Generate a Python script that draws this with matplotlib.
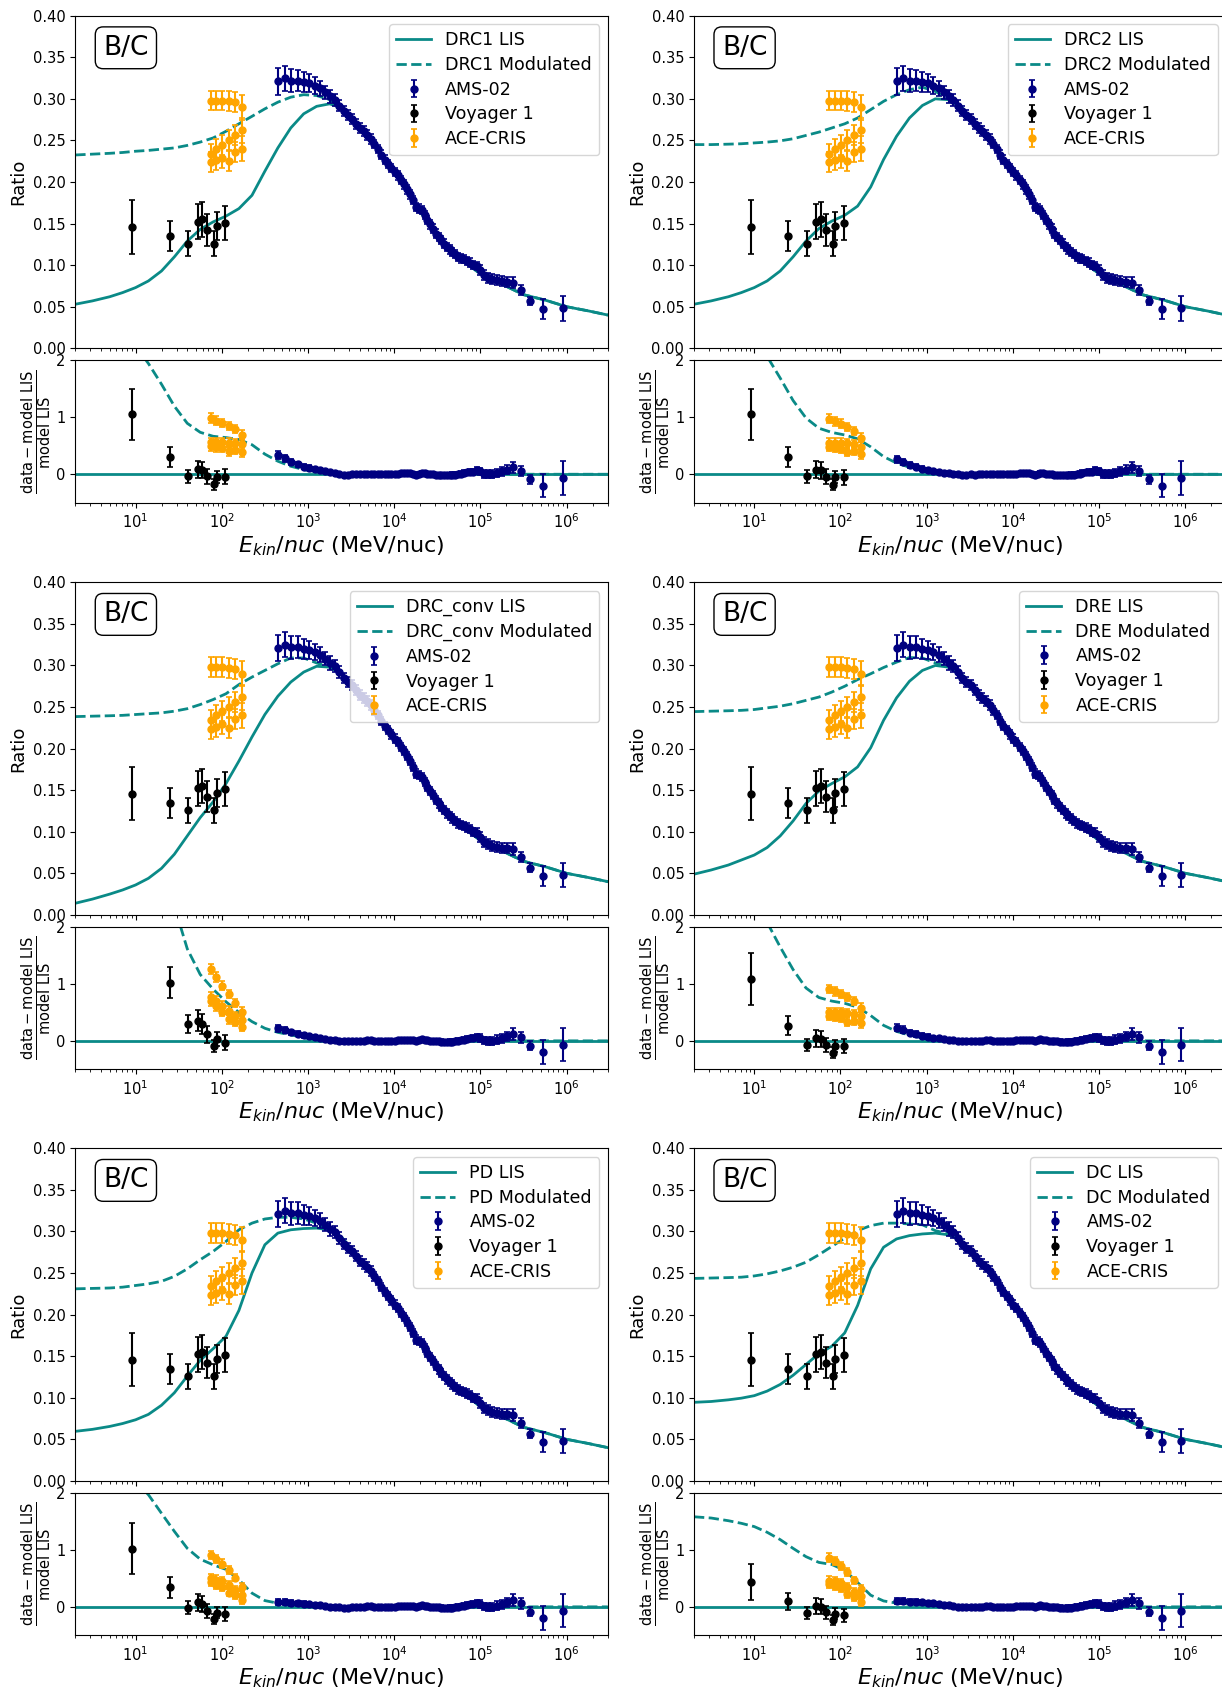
import numpy as np
import matplotlib.pyplot as plt

# ---------------- data ----------------
# model grid, kinetic energy per nucleon (MeV/nuc)
E_model = [2.0, 3.16, 5.01, 7.08, 10.0, 14.1, 20.0, 28.2, 39.8, 56.2, 79.4, 112, 158,
           224, 316, 447, 631, 891, 1259, 1778, 2512, 3981, 6310, 1.0e4, 1.78e4,
           3.16e4, 5.62e4, 1.0e5, 1.78e5, 3.16e5, 5.62e5, 1.0e6, 1.78e6, 3.0e6]

# high energy part, identical for every model (LIS and modulated)
tail = [0.266, 0.241, 0.212, 0.171, 0.137, 0.109, 0.0895, 0.077, 0.0645, 0.058, 0.050, 0.045, 0.040]

lis_drc1 = [0.053, 0.057, 0.062, 0.067, 0.073, 0.081, 0.093, 0.110, 0.129, 0.143, 0.152, 0.159, 0.168,
            0.184, 0.213, 0.241, 0.265, 0.282, 0.291, 0.294, 0.289] + tail
mod_drc1 = [0.2325, 0.2335, 0.2345, 0.2355, 0.237, 0.238, 0.2395, 0.241, 0.244, 0.248, 0.253, 0.261, 0.270,
            0.279, 0.288, 0.296, 0.302, 0.305, 0.304, 0.299, 0.291] + tail

lis_drc2 = [0.053, 0.057, 0.062, 0.067, 0.073, 0.081, 0.093, 0.110, 0.129, 0.144, 0.153, 0.160, 0.171,
            0.194, 0.227, 0.255, 0.277, 0.292, 0.300, 0.299, 0.290] + tail
mod_drc2 = [0.245, 0.245, 0.2455, 0.246, 0.247, 0.248, 0.2495, 0.252, 0.256, 0.260, 0.265, 0.270, 0.277,
            0.287, 0.297, 0.305, 0.311, 0.314, 0.309, 0.300, 0.291] + tail

lis_conv = [0.014, 0.019, 0.025, 0.030, 0.036, 0.044, 0.056, 0.073, 0.095, 0.117, 0.136, 0.158, 0.185,
            0.214, 0.241, 0.263, 0.280, 0.292, 0.299, 0.298, 0.289] + tail
mod_conv = [0.2385, 0.239, 0.2395, 0.240, 0.241, 0.242, 0.243, 0.245, 0.248, 0.253, 0.259, 0.266, 0.277,
            0.286, 0.294, 0.302, 0.309, 0.309, 0.303, 0.298, 0.290] + tail

lis_dre = [0.049, 0.054, 0.060, 0.066, 0.072, 0.081, 0.095, 0.113, 0.134, 0.149, 0.158, 0.166, 0.178,
           0.201, 0.234, 0.261, 0.281, 0.294, 0.300, 0.298, 0.289] + tail
mod_dre = [0.2445, 0.245, 0.2455, 0.246, 0.247, 0.249, 0.251, 0.254, 0.258, 0.262, 0.268, 0.275, 0.283,
           0.290, 0.2975, 0.304, 0.3095, 0.309, 0.303, 0.298, 0.290] + tail

lis_pd = [0.0596, 0.062, 0.0655, 0.069, 0.0735, 0.080, 0.091, 0.106, 0.126, 0.145, 0.159, 0.174, 0.205,
          0.250, 0.284, 0.298, 0.302, 0.3035, 0.304, 0.302, 0.292] + tail
mod_pd = [0.231, 0.2315, 0.232, 0.233, 0.235, 0.237, 0.240, 0.246, 0.255, 0.266, 0.276, 0.288, 0.302,
          0.310, 0.315, 0.317, 0.317, 0.315, 0.310, 0.302, 0.292] + tail

lis_dc = [0.0945, 0.0955, 0.0975, 0.0995, 0.1025, 0.108, 0.116, 0.127, 0.140, 0.153, 0.162, 0.178, 0.211,
          0.255, 0.281, 0.291, 0.295, 0.297, 0.298, 0.296, 0.289] + tail
mod_dc = [0.2435, 0.244, 0.2445, 0.245, 0.2465, 0.249, 0.2525, 0.257, 0.263, 0.272, 0.282, 0.292, 0.301,
          0.307, 0.310, 0.310, 0.309, 0.308, 0.301, 0.297, 0.289] + tail

model_names = ["DRC1", "DRC2", "DRC_conv", "DRE", "PD", "DC"]

# AMS-02 B/C
ams_E = [447, 538, 640, 757, 888, 1034, 1196, 1375, 1573, 1792, 2033, 2295, 2581, 2892, 3230, 3596,
         3993, 4420, 4888, 5383, 5902, 6471, 7092, 7762, 8482, 9254, 10075, 10971, 11940, 12970,
         14060, 15240, 16480, 17830, 19280, 20830, 22470, 24250, 26140, 28160, 30340, 32680,
         35210, 37900, 40800, 43930, 47300, 51040, 55040, 59280, 64020, 69510, 75750, 82740,
         90720, 99710, 109930, 121900, 136340, 154010, 175900, 203480, 239660, 293390, 380120,
         533900, 900000]
ams_val = [0.321, 0.325, 0.322, 0.322, 0.320, 0.319, 0.316, 0.313, 0.308, 0.303, 0.299, 0.292, 0.285,
           0.280, 0.276, 0.270, 0.265, 0.261, 0.257, 0.252, 0.246, 0.240, 0.233, 0.227, 0.222, 0.217,
           0.212, 0.208, 0.202, 0.197, 0.191, 0.185, 0.178, 0.170, 0.168, 0.166, 0.160, 0.154, 0.149,
           0.144, 0.138, 0.134, 0.130, 0.126, 0.122, 0.119, 0.116, 0.113, 0.110, 0.108, 0.107, 0.105,
           0.103, 0.100, 0.099, 0.094, 0.088, 0.085, 0.083, 0.082, 0.081, 0.080, 0.079, 0.070, 0.057,
           0.047, 0.048]
ams_err = [0.016, 0.015, 0.014, 0.013, 0.012, 0.011, 0.010, 0.009, 0.008, 0.008, 0.007, 0.007, 0.006,
           0.006, 0.006, 0.006, 0.006, 0.006, 0.006, 0.006, 0.005, 0.005, 0.005, 0.005, 0.005, 0.005,
           0.005, 0.005, 0.005, 0.005, 0.005, 0.005, 0.005, 0.005, 0.005, 0.005, 0.005, 0.005, 0.005,
           0.005, 0.005, 0.005, 0.005, 0.005, 0.005, 0.005, 0.005, 0.005, 0.005, 0.005, 0.005, 0.005,
           0.005, 0.005, 0.005, 0.006, 0.006, 0.006, 0.006, 0.006, 0.006, 0.006, 0.007, 0.006, 0.005,
           0.012, 0.015]

# Voyager 1 B/C
voy_E = [9.1, 24.8, 41.1, 52.7, 59.2, 67.6, 82.2, 87.5, 109]
voy_val = [0.146, 0.1346, 0.1257, 0.1524, 0.155, 0.1423, 0.126, 0.147, 0.151]
voy_err = [0.032, 0.018, 0.015, 0.021, 0.0206, 0.019, 0.015, 0.017, 0.0206]

# ACE-CRIS B/C (three periods)
ace_E = [74, 86, 101, 120, 144, 172]
ace_hi = [0.298, 0.298, 0.298, 0.297, 0.296, 0.290]
ace_mid = [0.234, 0.240, 0.245, 0.250, 0.256, 0.262]
ace_lo = [0.224, 0.226, 0.229, 0.225, 0.236, 0.240]
ace_err = [0.012, 0.012, 0.012, 0.012, 0.012, 0.015]

decades = [1e1, 1e2, 1e3, 1e4, 1e5, 1e6]

# ---------------- figure ----------------
W, H = 1222, 1687
fig = plt.figure(figsize=(W / 100, H / 100), dpi=100)

col_x = [75.3, 694.0]
row_top = [15.7, 582.3, 1148.3]
ax_w, main_h, gap, res_h = 532.5, 332.6, 11.7, 142.8

teal = "#0a8a87"
lis_list = [lis_drc1, lis_drc2, lis_conv, lis_dre, lis_pd, lis_dc]
mod_list = [mod_drc1, mod_drc2, mod_conv, mod_dre, mod_pd, mod_dc]


def box(x, top, w, h):
    return [x / W, 1 - (top + h) / H, w / W, h / H]


logE = np.log10(E_model)

for i, name in enumerate(model_names):
    r, c = divmod(i, 2)
    lis = np.array(lis_list[i])
    mod = np.array(mod_list[i])

    ax = fig.add_axes(box(col_x[c], row_top[r], ax_w, main_h))
    rax = fig.add_axes(box(col_x[c], row_top[r] + main_h + gap, ax_w, res_h))

    ax.plot(E_model, lis, color=teal, lw=2, label=name + " LIS")
    ax.plot(E_model, mod, color=teal, lw=2, ls="--", label=name + " Modulated")
    eb = dict(fmt="o", ms=5, capsize=2.5, elinewidth=1.5, capthick=1.2)
    ax.errorbar(ams_E, ams_val, yerr=ams_err, color="navy", label="AMS-02", **eb)
    ax.errorbar(voy_E, voy_val, yerr=voy_err, color="black", label="Voyager 1", **eb)
    ax.errorbar(ace_E, ace_hi, yerr=ace_err, color="orange", label="ACE-CRIS", **eb)
    ax.errorbar(ace_E, ace_mid, yerr=ace_err, color="orange", **eb)
    ax.errorbar(ace_E, ace_lo, yerr=ace_err, color="orange", **eb)

    ax.set_xscale("log")
    ax.set_xticks(decades)
    ax.set_xlim(2, 3e6)
    ax.set_ylim(0, 0.4)
    ax.set_yticks(np.arange(0, 0.41, 0.05))
    ax.yaxis.set_major_formatter(plt.FormatStrFormatter("%.2f"))
    ax.tick_params(labelbottom=False, labelsize=10.5)
    ax.set_ylabel("Ratio", fontsize=13)
    ax.legend(loc="upper right", fontsize=12.6, labelspacing=0.38)
    ax.text(0.095, 0.9035, "B/C", transform=ax.transAxes, fontsize=19, ha="center", va="center",
            bbox=dict(boxstyle="round,pad=0.3", fc="white", ec="black"))

    # residuals relative to the LIS model
    def lis_at(e):
        return np.interp(np.log10(e), logE, lis)

    rax.axhline(0, color=teal, lw=2)
    rax.plot(E_model, mod / lis - 1, color=teal, lw=2, ls="--")
    for e, v, er, col in [(ams_E, ams_val, ams_err, "navy"), (voy_E, voy_val, voy_err, "black"),
                          (ace_E, ace_hi, ace_err, "orange"), (ace_E, ace_mid, ace_err, "orange"),
                          (ace_E, ace_lo, ace_err, "orange")]:
        m = lis_at(e)
        rax.errorbar(e, np.array(v) / m - 1, yerr=np.array(er) / m, color=col, **eb)

    rax.set_xscale("log")
    rax.set_xticks(decades)
    rax.set_xlim(2, 3e6)
    rax.set_ylim(-0.5, 2)
    rax.set_yticks([0, 1, 2])
    rax.tick_params(labelsize=10.5)
    rax.set_ylabel(r"$\frac{\mathrm{data - model\ LIS}}{\mathrm{model\ LIS}}$", fontsize=15)
    rax.yaxis.set_label_coords(-0.040, 0.5)
    rax.set_xlabel(r"$E_{kin}/nuc$ (MeV/nuc)", fontsize=16, labelpad=2)

fig.savefig("out.png", dpi=100)
